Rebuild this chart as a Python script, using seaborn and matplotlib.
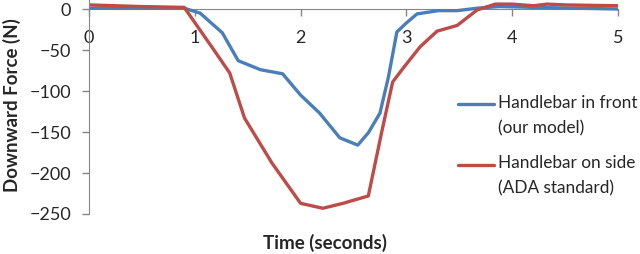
import matplotlib
matplotlib.use("Agg")
import matplotlib.pyplot as plt
import seaborn as sns
import pandas as pd
from matplotlib.legend_handler import HandlerLine2D

# Blue series: handlebar in front (our model)
front_t = [0.0, 0.5, 0.9, 1.05, 1.26, 1.41, 1.62, 1.83, 2.0, 2.18, 2.37, 2.54,
           2.64, 2.75, 2.83, 2.91, 3.0, 3.1, 3.3, 3.48, 3.67, 3.88, 4.2, 4.6, 5.0]
front_f = [1, 1, 1, -5, -29, -63, -74, -79, -105, -127, -157, -166,
           -151, -127, -83, -28, -17, -6, -2, -2, 1, 3, 2, 1, 0]

# Red series: handlebar on side (ADA standard)
side_t = [0.0, 0.5, 0.9, 1.17, 1.33, 1.47, 1.73, 2.0, 2.21, 2.4, 2.64, 2.77,
          2.87, 2.97, 3.13, 3.29, 3.48, 3.67, 3.84, 4.0, 4.2, 4.33, 4.5, 5.0]
side_f = [5, 3, 2, -48, -78, -133, -188, -237, -243, -237, -228, -148,
          -89, -72, -46, -27, -20, -1, 6, 6, 4, 6, 5, 4]

labels = ["Handlebar in front\n(our model)", "Handlebar on side\n(ADA standard)"]
colors = ["#4A7EBB", "#BE4B48"]

df = pd.concat([
    pd.DataFrame({"t": front_t, "f": front_f, "series": labels[0]}),
    pd.DataFrame({"t": side_t, "f": side_f, "series": labels[1]}),
])


class FirstLineHandler(HandlerLine2D):
    # put the legend line level with the first text line (Excel style)
    def create_artists(self, legend, orig_handle, xdescent, ydescent,
                       width, height, fontsize, trans):
        arts = super().create_artists(legend, orig_handle, xdescent, ydescent,
                                      width, height, fontsize, trans)
        for a in arts:
            a.set_ydata([y + 8.5 for y in a.get_ydata()])
        return arts


sns.set_style("white")
plt.rcParams["font.family"] = ["Lato", "DejaVu Sans"]

fig = plt.figure(figsize=(6.4, 2.54), dpi=100)
ax = fig.add_axes([89 / 640, 1 - 214 / 254, (618 - 89) / 640, 214 / 254])

sns.lineplot(data=df, x="t", y="f", hue="series", palette=colors,
             linewidth=2.4, ax=ax, sort=False, estimator=None)

ax.set_xlim(0, 5)
ax.set_ylim(-250, 11)
ax.set_xticks(range(0, 6))
ax.set_yticks(range(-250, 1, 50))

gray = "#868686"
for s in ["top", "right"]:
    ax.spines[s].set_visible(False)
ax.spines["bottom"].set_position(("data", 0))
ax.spines["bottom"].set_color(gray)
ax.spines["left"].set_color(gray)
ax.spines["bottom"].set_zorder(0)
ax.tick_params(axis="x", direction="out", length=5, width=1, color=gray,
               pad=10, labelsize=13, bottom=True)
ax.tick_params(axis="y", direction="out", length=5, width=1, color=gray,
               pad=8, labelsize=13, left=True)

ax.set_xlabel("")
ax.set_ylabel("")
fig.text(12 / 640, 1 - 105 / 254, "Downward Force (N)", rotation=90,
         ha="center", va="center", fontsize=13.5, fontweight="bold")
fig.text(325 / 640, 1 - 243 / 254, "Time (seconds)", ha="center",
         va="center", fontsize=13.5, fontweight="bold")

handles, _ = ax.get_legend_handles_labels()
leg = ax.legend(handles, labels, loc="upper left",
                bbox_to_anchor=(458 / 640, 1 - 95 / 254),
                bbox_transform=fig.transFigure, frameon=False, fontsize=12.4,
                handlelength=2.1, handletextpad=0.25, labelspacing=1.1,
                borderpad=0, borderaxespad=0,
                handler_map={h: FirstLineHandler() for h in handles})
for txt in leg.get_texts():
    txt.set_linespacing(1.7)

fig.savefig("out.png", dpi=100)
